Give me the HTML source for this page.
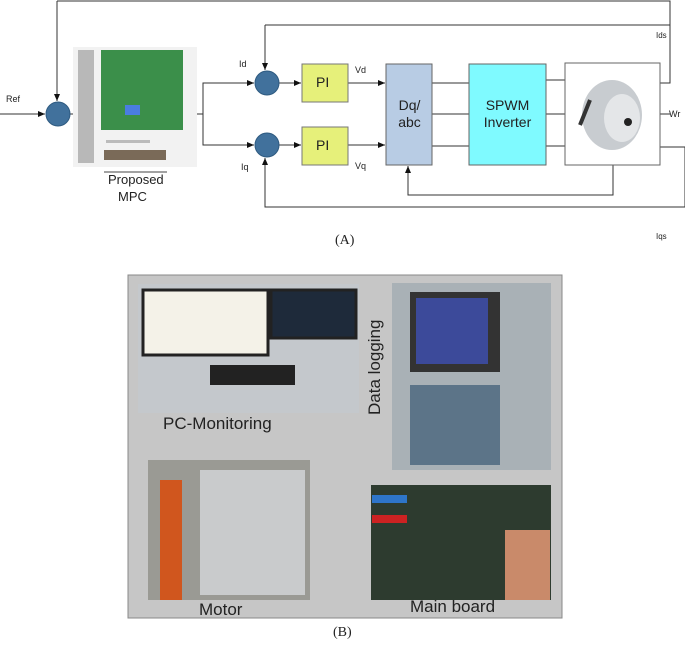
<!DOCTYPE html>
<html><head><style>
body{margin:0;background:#fff;width:685px;height:651px;overflow:hidden;position:relative;font-family:"Liberation Sans",sans-serif}
.t{position:absolute;color:#222;white-space:nowrap}
</style></head><body>
<svg width="685" height="651" style="position:absolute;left:0;top:0">
<defs><marker id="a" markerWidth="8" markerHeight="8" refX="7" refY="4" orient="auto" markerUnits="userSpaceOnUse"><path d="M0,1 L7,4 L0,7z" fill="#111"/></marker></defs>
<g stroke="#333" stroke-width="1" fill="none">
<path d="M57,1 H670 V83 H660"/>
<path d="M57,1 V101" marker-end="url(#a)"/>
<path d="M0,114 H45" marker-end="url(#a)"/>
<path d="M70,114 H74"/>
<path d="M197,114 H203 V83 H254" marker-end="url(#a)"/>
<path d="M203,114 V145 H254" marker-end="url(#a)"/>
<path d="M265,25 H670"/>
<path d="M265,25 V70" marker-end="url(#a)"/>
<path d="M279,83 H301" marker-end="url(#a)"/>
<path d="M279,145 H301" marker-end="url(#a)"/>
<path d="M348,83 H385" marker-end="url(#a)"/>
<path d="M348,145 H385" marker-end="url(#a)"/>
<path d="M432,83 H469 M432,114 H469 M432,146 H469"/>
<path d="M546,80 H565 M546,114 H565 M546,146 H565"/>
<path d="M660,114 H670"/>
<path d="M660,147 H685 M685,147 V207 H265 V158" marker-end="url(#a)"/>
<path d="M613,165 V195 H408 V166" marker-end="url(#a)"/>
</g>
<g fill="#41719c" stroke="#2e5a80">
<circle cx="58" cy="114" r="12"/>
<circle cx="267" cy="83" r="12"/>
<circle cx="267" cy="145" r="12"/>
</g>
<rect x="302" y="64" width="46" height="38" fill="#e6f07a" stroke="#777"/>
<rect x="302" y="127" width="46" height="38" fill="#e6f07a" stroke="#777"/>
<rect x="386" y="64" width="46" height="101" fill="#b8cce4" stroke="#666"/>
<rect x="469" y="64" width="77" height="101" fill="#7ffaff" stroke="#666"/>
<rect x="565" y="63" width="95" height="102" fill="#fff" stroke="#666"/>
<ellipse cx="612" cy="115" rx="30" ry="35" fill="#c8ccd0"/>
<ellipse cx="622" cy="118" rx="18" ry="24" fill="#e4e6e8"/>
<circle cx="628" cy="122" r="4" fill="#222"/>
<path d="M590,100 L580,125" stroke="#333" stroke-width="4"/>
<rect x="73" y="47" width="124" height="120" fill="#f2f2f2"/>
<rect x="78" y="50" width="16" height="113" fill="#b8b8b8"/>
<rect x="101" y="50" width="82" height="80" fill="#3b8f4a"/>
<rect x="125" y="105" width="15" height="10" fill="#4a7de0"/>
<rect x="106" y="140" width="44" height="3" fill="#bbb"/>
<rect x="104" y="150" width="62" height="10" fill="#7a6a58"/>
<line x1="104" y1="172" x2="167" y2="172" stroke="#444"/>
<rect x="128" y="275" width="434" height="343" fill="#c6c6c6" stroke="#888"/>
<rect x="138" y="284" width="221" height="129" fill="#c4c8cc"/>
<rect x="143" y="290" width="125" height="65" fill="#f4f2e8" stroke="#222" stroke-width="3"/>
<rect x="271" y="290" width="85" height="48" fill="#1e2a3a" stroke="#222" stroke-width="3"/>
<rect x="210" y="365" width="85" height="20" fill="#222"/>
<rect x="392" y="283" width="159" height="187" fill="#a9b1b6"/>
<rect x="410" y="292" width="90" height="80" fill="#333" />
<rect x="416" y="298" width="72" height="66" fill="#3c4a9a"/>
<rect x="410" y="385" width="90" height="80" fill="#5c7488"/>
<rect x="148" y="460" width="162" height="140" fill="#9a9a94"/>
<rect x="200" y="470" width="105" height="125" fill="#c9cbcc"/>
<rect x="160" y="480" width="22" height="120" fill="#d0561e"/>
<rect x="371" y="485" width="180" height="115" fill="#2d3b2f"/>
<rect x="505" y="530" width="45" height="70" fill="#c98a6a"/>
<rect x="372" y="495" width="35" height="8" fill="#2e75c9"/>
<rect x="372" y="515" width="35" height="8" fill="#c22"/>
</svg>
<div class="t" style="left:6px;top:94px;font-size:9px">Ref</div>
<div class="t" style="left:108px;top:172px;font-size:13px">Proposed</div>
<div class="t" style="left:118px;top:189px;font-size:13px">MPC</div>
<div class="t" style="left:239px;top:59px;font-size:9px">Id</div>
<div class="t" style="left:241px;top:162px;font-size:9px">Iq</div>
<div class="t" style="left:355px;top:65px;font-size:9px">Vd</div>
<div class="t" style="left:355px;top:161px;font-size:9px">Vq</div>
<div class="t" style="left:316px;top:74px;font-size:14px">PI</div>
<div class="t" style="left:316px;top:137px;font-size:14px">PI</div>
<div class="t" style="left:391px;top:97px;font-size:14px;text-align:center;width:37px;line-height:17px">Dq/<br>abc</div>
<div class="t" style="left:469px;top:97px;font-size:14px;text-align:center;width:77px;line-height:17px">SPWM<br>Inverter</div>
<div class="t" style="left:656px;top:31px;font-size:8px">Ids</div>
<div class="t" style="left:669px;top:109px;font-size:9px">Wr</div>
<div class="t" style="left:656px;top:232px;font-size:8px">Iqs</div>
<div class="t" style="left:335px;top:233px;font-size:14px;font-family:'Liberation Serif',serif">(A)</div>
<div class="t" style="left:163px;top:414px;font-size:17px">PC-Monitoring</div>
<div class="t" style="left:330px;top:360px;font-size:17px;transform:rotate(-90deg);transform-origin:center;width:90px;text-align:center">Data logging</div>
<div class="t" style="left:199px;top:600px;font-size:17px">Motor</div>
<div class="t" style="left:410px;top:597px;font-size:17px">Main board</div>
<div class="t" style="left:333px;top:625px;font-size:14px;font-family:'Liberation Serif',serif">(B)</div>
</body></html>
